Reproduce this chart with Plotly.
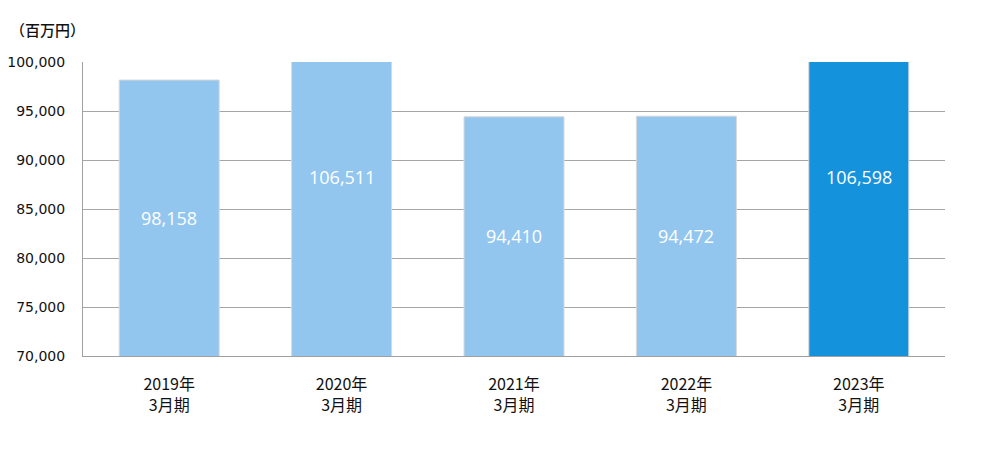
import plotly.graph_objects as go

categories = ["2019年<br>3月期", "2020年<br>3月期", "2021年<br>3月期", "2022年<br>3月期", "2023年<br>3月期"]
values = [98158, 106511, 94410, 94472, 106598]
bar_colors = ["#92C6EF", "#92C6EF", "#92C6EF", "#92C6EF", "#1592DC"]
y_min, y_max = 70000, 100000
tick_vals = [70000, 75000, 80000, 85000, 90000, 95000, 100000]
tick_text = ["70,000", "75,000", "80,000", "85,000", "90,000", "95,000", "100,000"]
unit_label = "（百万円）"

fig = go.Figure()
fig.add_trace(go.Bar(
    x=categories, y=values,
    marker=dict(color=bar_colors, line=dict(color="#D8D8D8", width=1)),
    width=0.58, hoverinfo="skip",
))

for c, v in zip(categories, values):
    fig.add_annotation(
        x=c, y=(y_min + v) / 2, text=f"{v:,}", showarrow=False,
        font=dict(family="Open Sans, Liberation Sans", size=18, color="white"),
        xanchor="center", yanchor="middle",
    )

fig.add_annotation(
    xref="paper", yref="paper", x=-0.087, y=1.11, text=unit_label, showarrow=False,
    xanchor="left", yanchor="middle",
    font=dict(family="Noto Sans CJK JP", size=15, color="#111111", weight=500),
)

fig.update_layout(
    width=1000, height=453,
    margin=dict(l=75, r=63, t=54, b=105, autoexpand=False),
    paper_bgcolor="white", plot_bgcolor="white",
    showlegend=False,
    bargap=0.42,
)
fig.update_xaxes(
    showgrid=False, showline=True, linecolor="#A0A0A0", linewidth=1,
    ticks="", ticklabelstandoff=14, automargin=False,
    tickfont=dict(family="Noto Sans CJK JP", size=16, color="#111111"),
)
fig.update_yaxes(
    range=[y_min, y_max], tickvals=tick_vals, ticktext=tick_text,
    showgrid=True, gridcolor="#A6A6A6", gridwidth=1,
    showline=True, linecolor="#A0A0A0", linewidth=1, zeroline=False,
    ticks="", ticklabelstandoff=14, automargin=False,
    tickfont=dict(family="DejaVu Sans", size=14, color="#111111"),
)

fig.write_html("out.html")
